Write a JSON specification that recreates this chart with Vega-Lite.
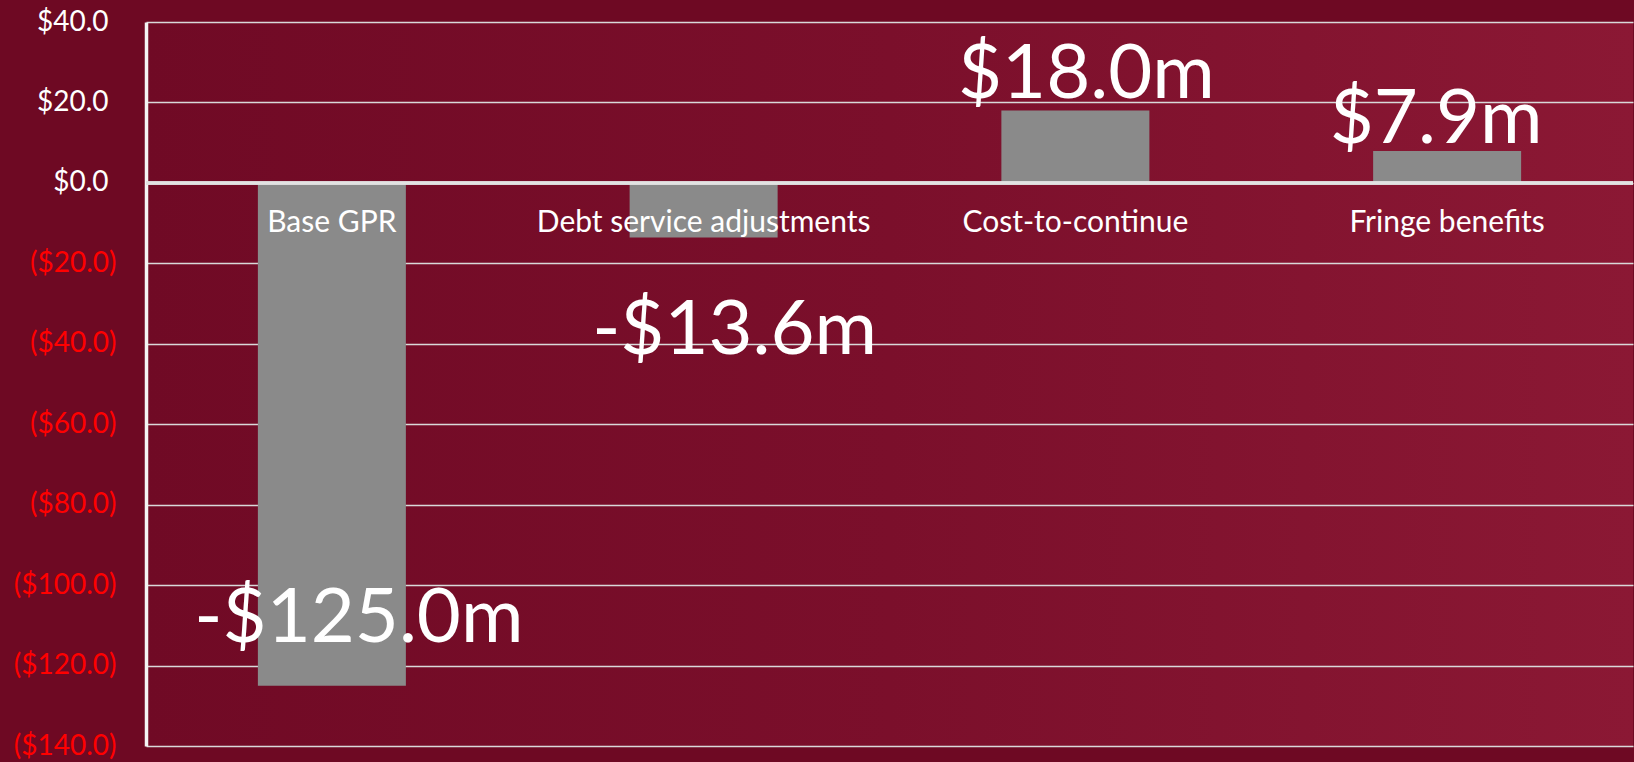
{
  "$schema": "https://vega.github.io/schema/vega-lite/v6.json",
  "width": 1487,
  "height": 724,
  "autosize": {"type": "none"},
  "padding": {"left": 146, "top": 22, "right": 1, "bottom": 16},
  "background": "#6e0923",
  "config": {
    "font": "Lato",
    "view": {
      "stroke": null,
      "fill": {
        "gradient": "linear",
        "x1": 0, "y1": 0, "x2": 1, "y2": 0,
        "stops": [
          {"offset": 0, "color": "#700a25"},
          {"offset": 0.5, "color": "#7b0f2b"},
          {"offset": 1, "color": "#8b1834"}
        ]
      }
    }
  },
  "data": {
    "values": [
      {"category": "Base GPR", "value": -125.0, "label": "-$125.0m"},
      {"category": "Debt service adjustments", "value": -13.6, "label": "-$13.6m"},
      {"category": "Cost-to-continue", "value": 18.0, "label": "$18.0m"},
      {"category": "Fringe benefits", "value": 7.9, "label": "$7.9m"}
    ]
  },
  "encoding": {
    "x": {
      "field": "category",
      "type": "nominal",
      "sort": null,
      "axis": null,
      "scale": {"paddingInner": 0, "paddingOuter": 0}
    }
  },
  "layer": [
    {
      "mark": {"type": "bar", "size": 148, "color": "#8a8a8a"},
      "encoding": {
        "y": {
          "field": "value",
          "type": "quantitative",
          "scale": {"domain": [-140, 40], "nice": false, "zero": false},
          "axis": {
            "title": null,
            "values": [-140, -120, -100, -80, -60, -40, -20, 0, 20, 40],
            "labelExpr": "datum.value < 0 ? '($' + format(-datum.value, '.1f') + ')' : '$' + format(datum.value, '.1f')",
            "labelColor": {"condition": {"test": "datum.value < 0", "value": "#ff0000"}, "value": "#ffffff"},
            "labelPadding": {"condition": {"test": "datum.value < 0", "value": 30}, "value": 38},
            "labelFont": "Lato",
            "labelFontSize": 28,
            "labelFlush": false,
            "labelOverlap": false,
            "labelBaseline": "middle",
            "ticks": false,
            "tickSize": 0,
            "domainColor": "#f4f4f4",
            "domainWidth": 3.5,
            "gridColor": "#d9d9d9",
            "gridWidth": 1.5
          }
        }
      }
    },
    {
      "mark": {"type": "rule", "color": "#e2e2e2", "strokeWidth": 3},
      "encoding": {"y": {"datum": 0, "type": "quantitative"}, "x": {"value": 0}, "x2": {"value": 1487}}
    },
    {
      "mark": {"type": "text", "baseline": "alphabetic", "align": "center", "dy": 49, "fontSize": 30, "color": "#ffffff", "font": "Lato"},
      "encoding": {
        "y": {"datum": 0, "type": "quantitative"},
        "text": {"field": "category"}
      }
    },
    {
      "transform": [{"filter": "datum.category === 'Base GPR'"}],
      "mark": {"type": "text", "baseline": "alphabetic", "align": "center", "dy": -44, "dx": 27, "fontSize": 76, "color": "#ffffff", "font": "Lato"},
      "encoding": {"y": {"field": "value", "type": "quantitative"}, "text": {"field": "label"}}
    },
    {
      "transform": [{"filter": "datum.category === 'Debt service adjustments'"}],
      "mark": {"type": "text", "baseline": "alphabetic", "align": "center", "dy": 116, "dx": 31, "fontSize": 76, "color": "#ffffff", "font": "Lato"},
      "encoding": {"y": {"field": "value", "type": "quantitative"}, "text": {"field": "label"}}
    },
    {
      "transform": [{"filter": "datum.category === 'Cost-to-continue'"}],
      "mark": {"type": "text", "baseline": "alphabetic", "align": "center", "dy": -12, "dx": 11, "fontSize": 76, "color": "#ffffff", "font": "Lato"},
      "encoding": {"y": {"field": "value", "type": "quantitative"}, "text": {"field": "label"}}
    },
    {
      "transform": [{"filter": "datum.category === 'Fringe benefits'"}],
      "mark": {"type": "text", "baseline": "alphabetic", "align": "center", "dy": -8, "dx": -11, "fontSize": 76, "color": "#ffffff", "font": "Lato"},
      "encoding": {"y": {"field": "value", "type": "quantitative"}, "text": {"field": "label"}}
    }
  ]
}
